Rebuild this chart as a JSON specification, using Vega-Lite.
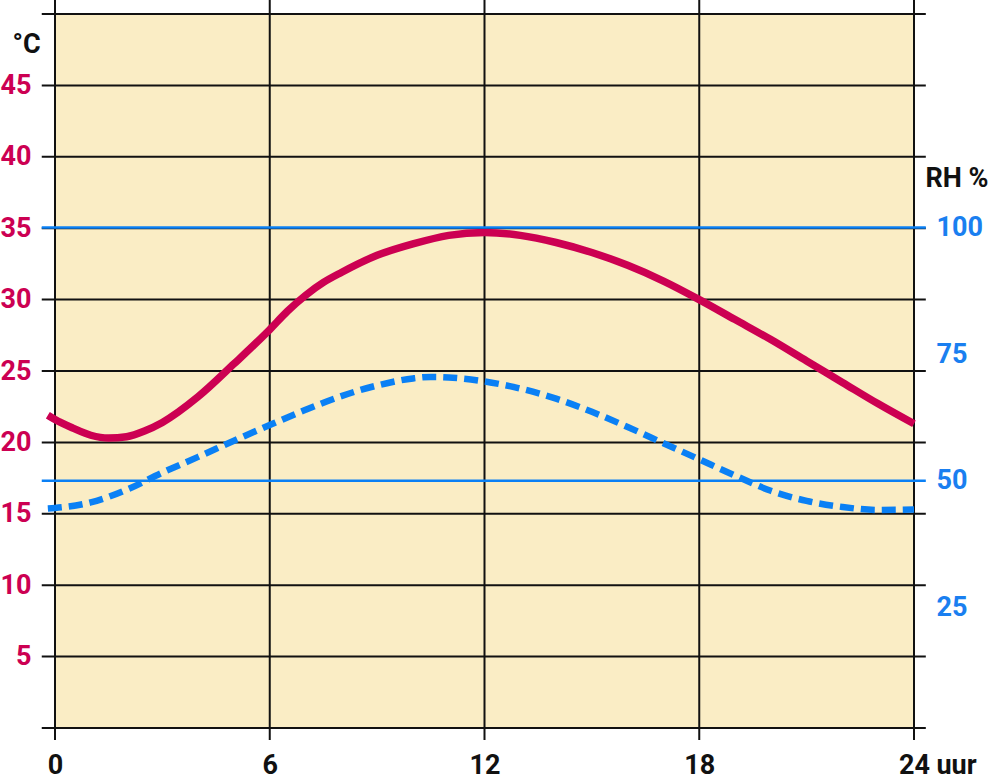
{
  "$schema": "https://vega.github.io/schema/vega-lite/v6.json",
  "width": 859,
  "height": 714,
  "autosize": "none",
  "padding": {"left": 55, "top": 14, "right": 82, "bottom": 51},
  "background": "white",
  "config": {
    "view": {"fill": "#FAEDC5", "stroke": null},
    "font": "Roboto"
  },
  "datasets": {
    "hgrid": [{"t": 0}, {"t": 5}, {"t": 10}, {"t": 15}, {"t": 20}, {"t": 25}, {"t": 30}, {"t": 35}, {"t": 40}, {"t": 45}, {"t": 50}],
    "vgrid": [{"h": 0}, {"h": 6}, {"h": 12}, {"h": 18}, {"h": 24}],
    "rhlines": [{"rh": 50}, {"rh": 100}],
    "temp": [
      {"h": -0.2, "t": 21.9}, {"h": 0, "t": 21.6}, {"h": 0.5, "t": 21.0}, {"h": 1, "t": 20.5}, {"h": 1.5, "t": 20.3},
      {"h": 2, "t": 20.4}, {"h": 2.5, "t": 20.8}, {"h": 3, "t": 21.4}, {"h": 4, "t": 23.2}, {"h": 5, "t": 25.5},
      {"h": 6, "t": 27.9}, {"h": 6.5, "t": 29.2}, {"h": 7, "t": 30.3}, {"h": 7.5, "t": 31.2}, {"h": 8, "t": 31.9},
      {"h": 9, "t": 33.1}, {"h": 10, "t": 33.9},
      {"h": 11, "t": 34.5}, {"h": 12, "t": 34.7}, {"h": 13, "t": 34.5}, {"h": 14, "t": 34.0}, {"h": 15, "t": 33.3},
      {"h": 16, "t": 32.4}, {"h": 17, "t": 31.3}, {"h": 18, "t": 30.0}, {"h": 19, "t": 28.6}, {"h": 20, "t": 27.2},
      {"h": 21, "t": 25.7}, {"h": 22, "t": 24.2}, {"h": 23, "t": 22.7}, {"h": 24, "t": 21.3}
    ],
    "rh": [
      {"h": -0.2, "rh": 44.5}, {"h": 0, "rh": 44.6}, {"h": 1, "rh": 45.7}, {"h": 2, "rh": 48.2}, {"h": 3, "rh": 51.6},
      {"h": 4, "rh": 54.7}, {"h": 5, "rh": 57.9}, {"h": 6, "rh": 61.0}, {"h": 7, "rh": 64.0}, {"h": 8, "rh": 66.7},
      {"h": 9, "rh": 68.8}, {"h": 10, "rh": 70.2}, {"h": 10.5, "rh": 70.5}, {"h": 11, "rh": 70.4}, {"h": 12, "rh": 69.6},
      {"h": 13, "rh": 68.2}, {"h": 14, "rh": 66.2}, {"h": 15, "rh": 63.6}, {"h": 16, "rh": 60.6}, {"h": 17, "rh": 57.4},
      {"h": 18, "rh": 54.2}, {"h": 19, "rh": 51.0}, {"h": 20, "rh": 48.0}, {"h": 21, "rh": 46.0}, {"h": 22, "rh": 44.8},
      {"h": 23, "rh": 44.2}, {"h": 24, "rh": 44.3}
    ]
  },
  "layer": [
    {
      "layer": [
        {
          "data": {"name": "hgrid"},
          "transform": [{"calculate": "-0.37", "as": "x1"}, {"calculate": "24.33", "as": "x2"}],
          "mark": {"type": "rule", "color": "#111111", "strokeWidth": 2, "clip": false},
          "encoding": {
            "y": {"field": "t", "type": "quantitative", "scale": {"domain": [0, 50], "nice": false, "zero": false},
              "axis": {"values": [5, 10, 15, 20, 25, 30, 35, 40, 45], "ticks": false, "domain": false, "grid": false,
                "labelPadding": 24, "labelFontSize": 27, "labelFontWeight": "bold", "labelColor": "#CC0052",
                "title": "°C", "titleAngle": 0, "titleX": -43, "titleY": 30, "titleAlign": "left", "titleBaseline": "middle",
                "titleFontSize": 27, "titleFontWeight": "bold", "titleColor": "#111111"}},
            "x": {"field": "x1", "type": "quantitative", "scale": {"domain": [0, 24], "nice": false, "zero": false},
              "axis": {"values": [0, 6, 12, 18, 24], "ticks": false, "domain": false, "grid": false, "labelFlush": false,
                "labelPadding": 24, "labelFontSize": 27, "labelFontWeight": "bold", "labelColor": "#111111",
                "title": "uur", "titleX": 881, "titleY": 45, "titleAlign": "left", "titleBaseline": "alphabetic",
                "titleFontSize": 27, "titleFontWeight": "bold", "titleColor": "#111111"}},
            "x2": {"field": "x2"}
          }
        },
        {
          "data": {"name": "vgrid"},
          "transform": [{"calculate": "-0.84", "as": "y1"}, {"calculate": "50.98", "as": "y2"}],
          "mark": {"type": "rule", "color": "#111111", "strokeWidth": 2, "clip": false},
          "encoding": {
            "x": {"field": "h", "type": "quantitative"},
            "y": {"field": "y1", "type": "quantitative"},
            "y2": {"field": "y2"}
          }
        },
        {
          "data": {"name": "temp"},
          "mark": {"type": "line", "color": "#CC0052", "strokeWidth": 7.5, "interpolate": "monotone", "clip": false},
          "encoding": {
            "x": {"field": "h", "type": "quantitative"},
            "y": {"field": "t", "type": "quantitative"}
          }
        }
      ]
    },
    {
      "layer": [
        {
          "data": {"name": "rhlines"},
          "transform": [{"calculate": "-0.37", "as": "x1"}, {"calculate": "24.33", "as": "x2"}],
          "mark": {"type": "rule", "color": "#0A80F5", "strokeWidth": 2.5, "clip": false},
          "encoding": {
            "y": {"field": "rh", "type": "quantitative", "scale": {"domain": [1.13, 142.2], "nice": false, "zero": false},
              "axis": {"orient": "right", "values": [25, 50, 75, 100], "ticks": false, "domain": false, "grid": false,
                "labelPadding": 22, "labelFontSize": 27, "labelFontWeight": "bold", "labelColor": "#1A7FF0",
                "title": "RH %", "titleAngle": 0, "titleX": 11, "titleY": 164, "titleAlign": "left", "titleBaseline": "middle",
                "titleFontSize": 27, "titleFontWeight": "bold", "titleColor": "#111111"}},
            "x": {"field": "x1", "type": "quantitative"},
            "x2": {"field": "x2"}
          }
        },
        {
          "data": {"name": "rh"},
          "mark": {"type": "line", "color": "#0A80F5", "strokeWidth": 6.5, "strokeDash": [14, 7], "interpolate": "monotone", "clip": false},
          "encoding": {
            "x": {"field": "h", "type": "quantitative"},
            "y": {"field": "rh", "type": "quantitative"}
          }
        }
      ]
    }
  ],
  "resolve": {"scale": {"y": "independent"}, "axis": {"y": "independent"}}
}
